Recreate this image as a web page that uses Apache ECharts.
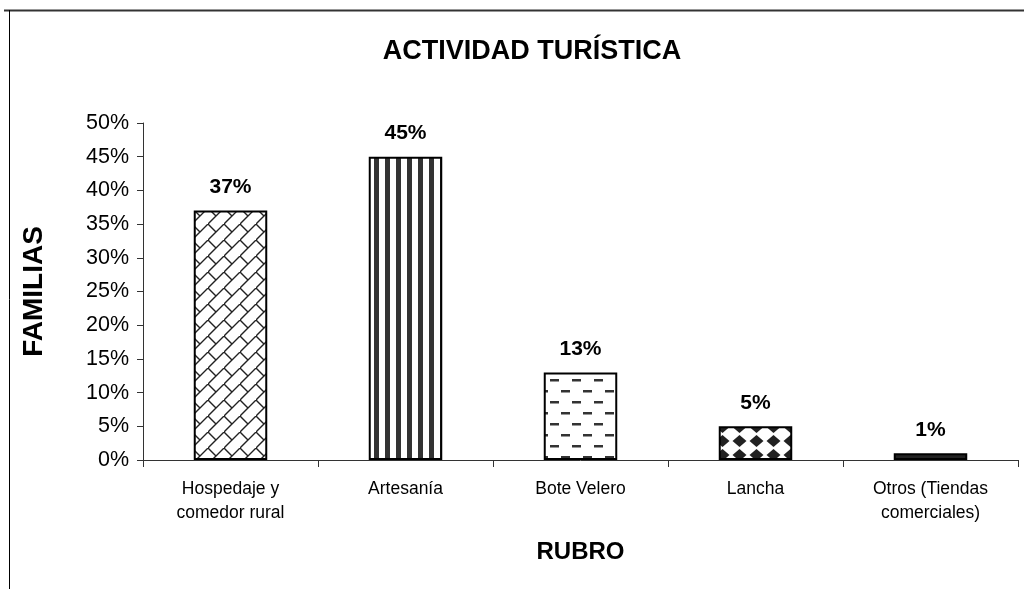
<!DOCTYPE html>
<html>
<head>
<meta charset="utf-8">
<script src="https://cdn.jsdelivr.net/npm/echarts@6/dist/echarts.min.js"></script>
<style>
html,body{margin:0;padding:0;background:#fff;}
#main{width:1024px;height:589px;}
</style>
</head>
<body>
<div id="main"></div>
<script>
var categories = ['Hospedaje y\ncomedor rural', 'Artesanía', 'Bote Velero', 'Lancha', 'Otros (Tiendas\ncomerciales)'];
var values = [0.37, 0.45, 0.13, 0.05, 0.01];
var yTicks = [0, 0.05, 0.1, 0.15, 0.2, 0.25, 0.3, 0.35, 0.4, 0.45, 0.5];

// patrones de relleno
function makeTile(w, h, draw) {
	var c = document.createElement('canvas');
	c.width = w; c.height = h;
	var ctx = c.getContext('2d');
	ctx.fillStyle = '#fff';
	ctx.fillRect(0, 0, w, h);
	draw(ctx);
	return c;
}
var patCross = makeTile(16, 16, function (ctx) {
	ctx.strokeStyle = '#222';
	ctx.lineWidth = 1.4;
	ctx.beginPath();
	ctx.moveTo(0, 16); ctx.lineTo(16, 0);
	ctx.moveTo(0, 0); ctx.lineTo(8, 8);
	ctx.stroke();
});
var patStripe = makeTile(11, 10, function (ctx) {
	ctx.fillStyle = '#333';
	ctx.fillRect(0, 0, 5, 10);
});
var patDash = makeTile(22, 22, function (ctx) {
	ctx.fillStyle = '#333';
	ctx.fillRect(0, 5, 9, 2.5);
	ctx.fillRect(11, 16, 9, 2.5);
});
var patDiamond = makeTile(17, 14, function (ctx) {
	ctx.fillStyle = '#222';
	ctx.beginPath();
	ctx.moveTo(8.5, 1); ctx.lineTo(15.5, 7); ctx.lineTo(8.5, 13); ctx.lineTo(1.5, 7);
	ctx.closePath();
	ctx.fill();
});
var patOtros = makeTile(16, 6, function (ctx) {
	ctx.fillStyle = '#222';
	ctx.fillRect(0, 0, 16, 6);
	ctx.fillStyle = '#fff';
	ctx.fillRect(4, 2, 7, 2);
});
var patterns = [patCross, patStripe, patDash, patDiamond, patOtros];

var chart = echarts.init(document.getElementById('main'));
chart.setOption({
	backgroundColor: '#fff',
	animation: false,
	title: {
		text: 'ACTIVIDAD TURÍSTICA',
		left: 527, top: 33, textAlign: 'center',
		textStyle: {fontFamily: 'Liberation Sans', fontSize: 27, fontWeight: 'bold', color: '#000'}
	},
	grid: {left: 143, right: 6, top: 123, bottom: 129},
	xAxis: {
		type: 'category',
		data: categories,
		name: 'RUBRO',
		nameLocation: 'middle',
		nameGap: 80,
		nameTextStyle: {fontFamily: 'Liberation Sans', fontSize: 24, fontWeight: 'bold', color: '#000'},
		axisLine: {lineStyle: {color: '#333', width: 1}},
		axisTick: {show: true, length: 7, lineStyle: {color: '#333'}},
		axisLabel: {fontFamily: 'Liberation Sans', fontSize: 17.5, color: '#000', margin: 17, lineHeight: 24}
	},
	yAxis: {
		type: 'value',
		min: 0, max: 0.5, interval: 0.05,
		name: 'FAMILIAS',
		nameLocation: 'middle',
		nameGap: 95,
		nameTextStyle: {fontFamily: 'Liberation Sans', fontSize: 28, fontWeight: 'bold', color: '#000'},
		axisLine: {show: true, lineStyle: {color: '#333', width: 1}},
		axisTick: {show: true, length: 6, lineStyle: {color: '#333'}},
		splitLine: {show: false},
		axisLabel: {
			fontFamily: 'Liberation Sans', fontSize: 21.5, color: '#000', margin: 14,
			formatter: function (v) { return Math.round(v * 100) + '%'; }
		}
	},
	series: [{
		type: 'bar',
		barWidth: '42%',
		data: values.map(function (v, i) {
			return {value: v, itemStyle: {color: {image: patterns[i], repeat: 'repeat'}}};
		}),
		itemStyle: {borderColor: '#000', borderWidth: 2},
		label: {
			show: true, position: 'top', distance: 13,
			fontFamily: 'Liberation Sans', fontSize: 21, fontWeight: 'bold', color: '#000',
			formatter: function (p) { return Math.round(p.value * 100) + '%'; }
		}
	}],
	graphic: [
		{type: 'line', shape: {x1: 4, y1: 10.5, x2: 1024, y2: 10.5}, style: {stroke: '#333', lineWidth: 2}},
		{type: 'line', shape: {x1: 9.5, y1: 10, x2: 9.5, y2: 589}, style: {stroke: '#000', lineWidth: 1}}
	]
});
</script>
</body>
</html>
